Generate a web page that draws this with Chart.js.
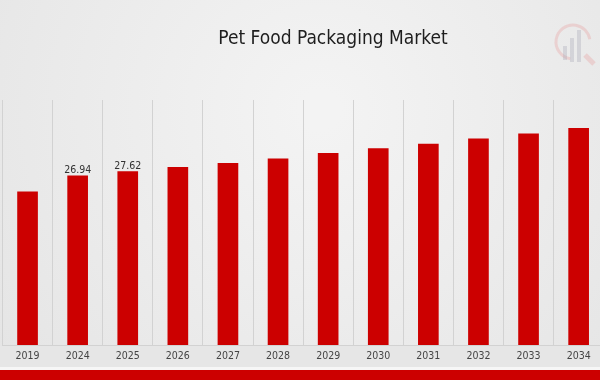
<!DOCTYPE html>
<html><head><meta charset="utf-8">
<script src="https://cdn.jsdelivr.net/npm/chart.js@4.4.1/dist/chart.umd.min.js"></script>
<style>
html,body{margin:0;padding:0;overflow:hidden;width:600px;height:380px;background:#ebebeb}
#wrap{width:610px;height:380px;position:relative}
</style>
</head><body><div id="wrap"><canvas id="c" width="610" height="380"></canvas></div>
<script>
const categories = ['2019','2024','2025','2026','2027','2028','2029','2030','2031','2032','2033','2034'];
const marketValues = [24.4, 26.94, 27.62, 28.3, 28.9, 29.65, 30.5, 31.25, 32.0, 32.8, 33.6, 34.5];
const labelledYears = ['2024','2025'];
const titleText = 'Pet Food Packaging Market';
const yMin = 0;
const yMax = 39;

const FONT = '"DejaVu Sans Condensed", "DejaVu Sans", sans-serif';

const bgPlugin = {
  id: 'bg',
  beforeDraw(chart) {
    const ctx = chart.ctx, w = chart.width, h = chart.height;
    ctx.save();
    const g = ctx.createRadialGradient(320, 110, 20, 320, 110, 460);
    g.addColorStop(0, '#f3f3f3');
    g.addColorStop(1, '#e3e3e3');
    ctx.fillStyle = g;
    ctx.fillRect(0, 0, w, h);
    ctx.fillStyle = '#e6e6e6';
    ctx.fillRect(0, 346, w, 22);
    ctx.fillStyle = '#f6f6f6';
    ctx.fillRect(0, 367, w, 3);
    ctx.fillStyle = '#cc0000';
    ctx.fillRect(0, 370, w, 10);
    // watermark logo
    ctx.globalAlpha = 0.35;
    ctx.strokeStyle = '#e8a0a0';
    ctx.lineWidth = 3;
    ctx.beginPath();
    ctx.arc(573, 42, 17, Math.PI * 0.55, Math.PI * 1.95);
    ctx.stroke();
    ctx.fillStyle = '#a8a8b8';
    ctx.fillRect(563, 46, 4, 14);
    ctx.fillRect(570, 38, 4, 24);
    ctx.fillRect(577, 30, 4, 32);
    ctx.strokeStyle = '#e8a0a0';
    ctx.lineWidth = 5;
    ctx.beginPath();
    ctx.moveTo(585, 55); ctx.lineTo(594, 64);
    ctx.stroke();
    ctx.restore();
  }
};

const textPlugin = {
  id: 'texts',
  afterDatasetsDraw(chart) {
    const ctx = chart.ctx;
    ctx.save();
    ctx.fillStyle = '#1e1e1e';
    ctx.font = '19px ' + FONT;
    ctx.textAlign = 'center';
    ctx.textBaseline = 'middle';
    ctx.fillText(titleText, 333, 39);
    const meta = chart.getDatasetMeta(0);
    ctx.font = '10.5px ' + FONT;
    ctx.fillStyle = '#333333';
    ctx.textBaseline = 'alphabetic';
    meta.data.forEach((bar, i) => {
      if (labelledYears.includes(categories[i])) {
        ctx.fillText(marketValues[i].toFixed(2), bar.x, bar.y - 2.5);
      }
    });
    ctx.restore();
  }
};

new Chart(document.getElementById('c'), {
  type: 'bar',
  data: {
    labels: categories,
    datasets: [{
      data: marketValues,
      backgroundColor: '#cc0000',
      borderColor: '#b80000',
      borderWidth: 0,
      barThickness: 20
    }]
  },
  options: {
    responsive: false,
    animation: false,
    devicePixelRatio: 1,
    layout: { padding: { left: 2.5, right: 6.3, top: 100, bottom: 0 } },
    plugins: { legend: { display: false }, title: { display: false }, tooltip: { enabled: false } },
    scales: {
      y: { display: false, min: yMin, max: yMax },
      x: {
        offset: true,
        grid: { color: '#d2d2d2', drawTicks: false, offset: true, lineWidth: 1 },
        border: { display: true, color: '#d2d2d2' },
        ticks: { color: '#444444', font: { family: FONT, size: 10.5 }, padding: 5, maxRotation: 0 },
        afterFit(s) { s.height = 35; }
      }
    }
  },
  plugins: [bgPlugin, textPlugin]
});
</script>
</body></html>
